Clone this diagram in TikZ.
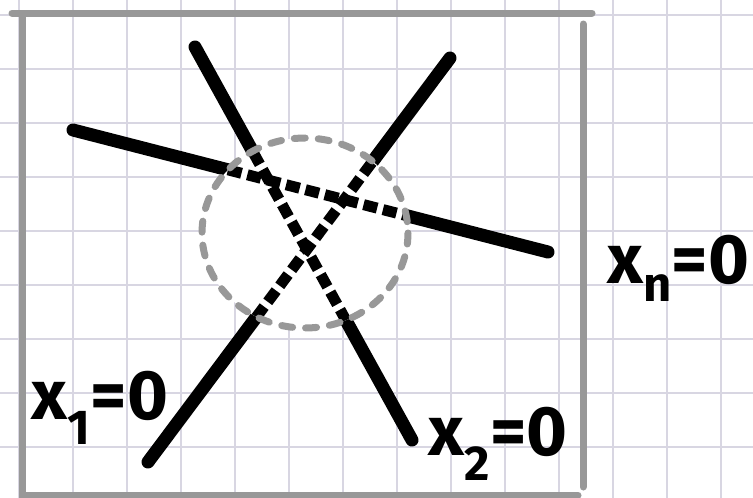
\documentclass[tikz,border=0pt]{standalone}
\usepackage{fontspec}
\setmainfont{Fira Sans}
\usetikzlibrary{positioning}
\definecolor{GridLav}{RGB}{216,214,226}
\definecolor{FrameGray}{RGB}{152,152,152}
\tikzset{
    % squared paper
    gridline/.style={
        draw=GridLav,
        line width=1.3pt
    },
    framebox/.style={
        draw=FrameGray,
        line width=7pt,
        line cap=round
    },
    hyperplane/.style={
        draw=black,
        line width=13pt,
        line cap=round
    },
    brokenplane/.style={
        draw=black,
        line width=11pt,
        dash pattern=on 14pt off 6pt
    },
    ballline/.style={
        draw=FrameGray,
        line width=7pt,
        line cap=round,
        dash pattern=on 11pt off 13pt
    },
    eqlabel/.style={
        font=\bfseries\fontsize{70}{70}\selectfont,
        inner sep=0pt
    }
}

\begin{document}
\begin{tikzpicture}[x=1pt,y=-1pt]
    \useasboundingbox (0,0) rectangle (753,498);
    \fill[white] (0,0) rectangle (753,498);

    % Grid
    \foreach \gx in {19,73,...,739}
        \draw[gridline] (\gx,0) -- (\gx,498);
    \foreach \gy in {15,69,...,497}
        \draw[gridline] (0,\gy) -- (753,\gy);

    % Frame
    \draw[framebox] (12,13) -- (592,13);
    \draw[framebox] (22,17) -- (22,495) -- (578,495);
    \draw[framebox] (583,24) -- (583,487);

    % Hyperplanes
    \coordinate (n1) at (73,130);
    \coordinate (n2) at (548,252);
    \coordinate (a1) at (195,47);
    \coordinate (a2) at (412,440);
    \coordinate (b1) at (148,462);
    \coordinate (b2) at (450,58);
    \coordinate (ball) at (305,233);

    \draw[hyperplane] (n1) -- (n2);
    \draw[hyperplane] (a1) -- (a2);
    \draw[hyperplane] (b1) -- (b2);

    % Ball around the intersection
    \fill[white] (ball) ellipse [x radius=103, y radius=95];
    \begin{scope}
        \clip (ball) ellipse [x radius=103, y radius=95];
        \draw[brokenplane] (n1) -- (n2);
        \draw[brokenplane] (a1) -- (a2);
        \draw[brokenplane] (b1) -- (b2);
    \end{scope}
    \draw[ballline] (ball) ellipse [x radius=103, y radius=95];

    % Labels
    \node[eqlabel] (lbl1) at (100,408) {x\textsubscript{1}=0};
    \node[eqlabel] (lbl2) at (498,444) {x\textsubscript{2}=0};
    \node[eqlabel, anchor=west] (lbln) at (607,268) {x\textsubscript{n}=0};
\end{tikzpicture}
\end{document}
